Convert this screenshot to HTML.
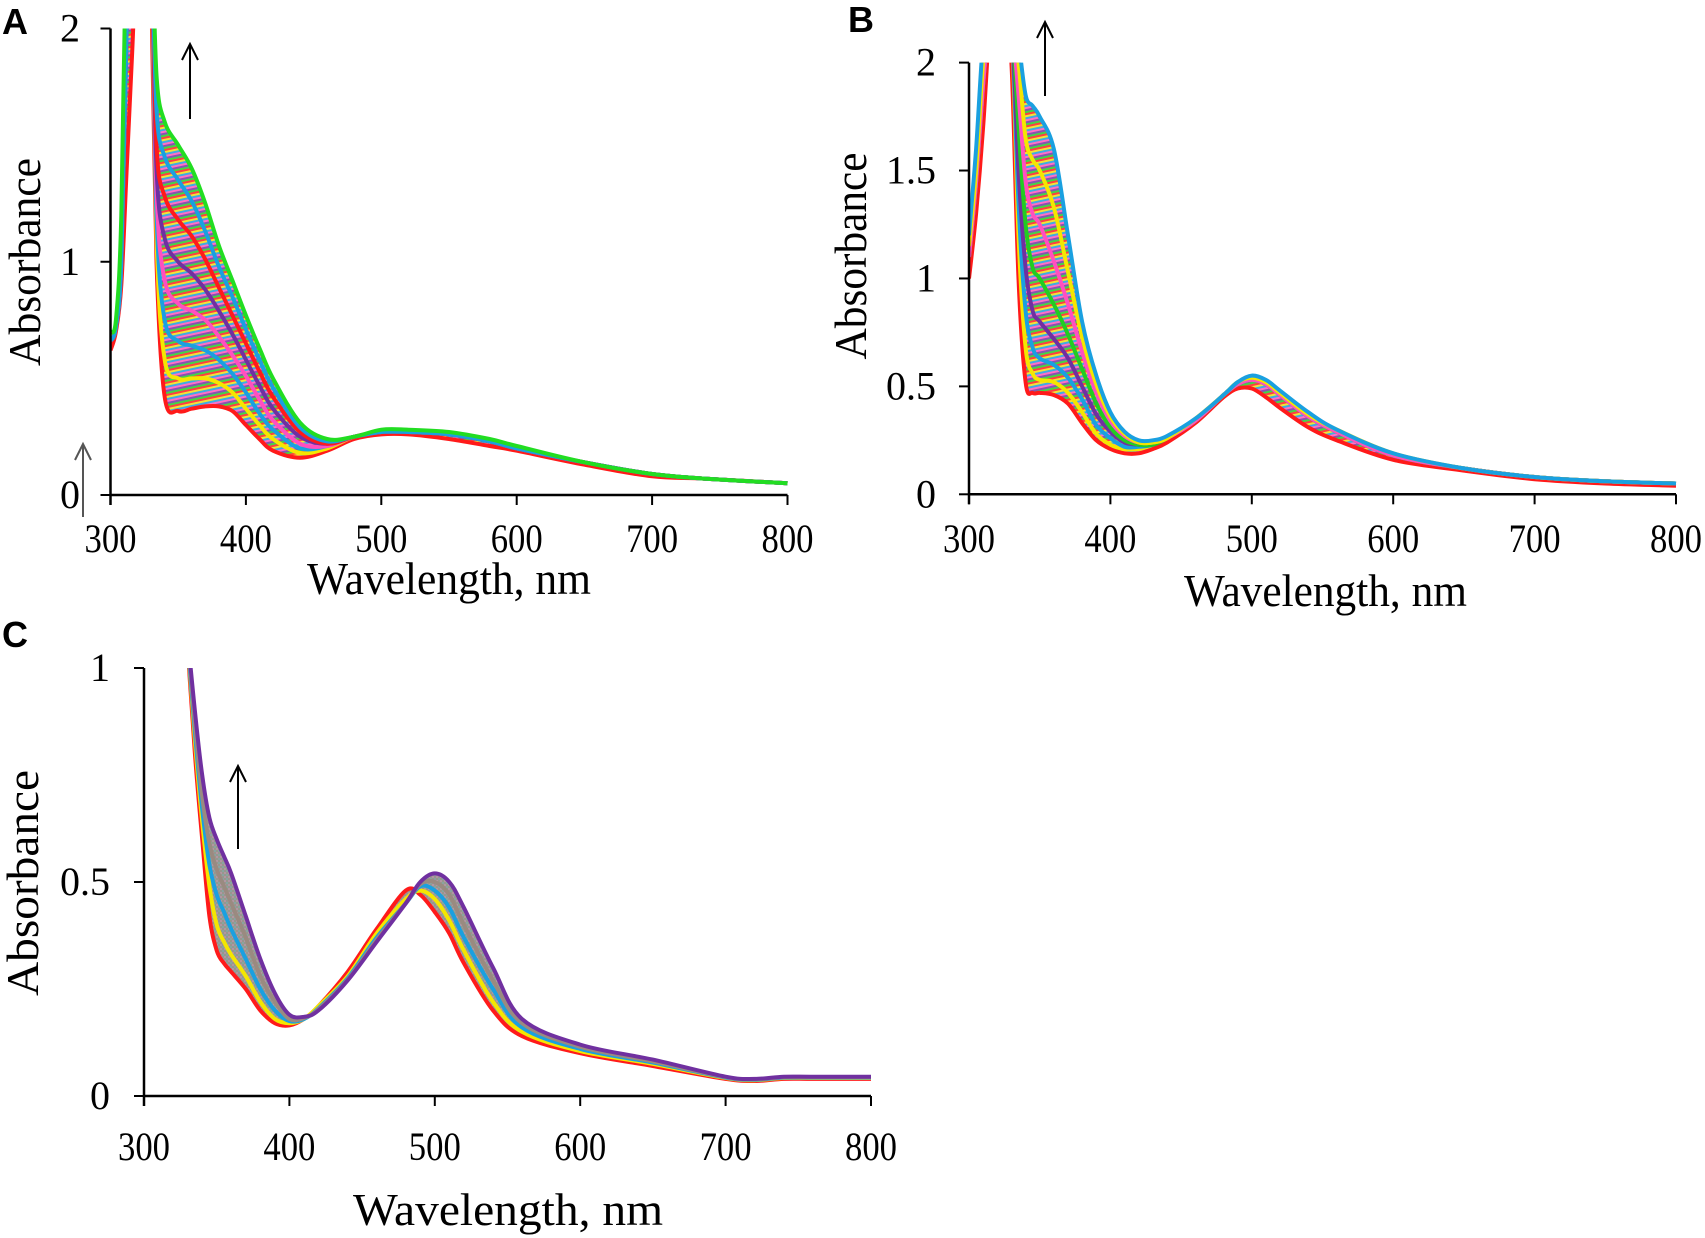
<!DOCTYPE html>
<html>
<head>
<meta charset="utf-8">
<style>
  html, body { margin: 0; padding: 0; background: #fff; }
  svg { display: block; }
  .tick { font-family: "Liberation Serif", serif; font-size: 40px; fill: #000; }
  .title { font-family: "Liberation Serif", serif; font-size: 46px; fill: #000; }
  .letter { font-family: "Liberation Sans", sans-serif; font-size: 36px; font-weight: bold; fill: #000; }
</style>
</head>
<body>
<svg id="chart" width="1705" height="1238" viewBox="0 0 1705 1238" xmlns="http://www.w3.org/2000/svg">
  <defs>
    <pattern id="stripesA" width="8" height="12" patternUnits="userSpaceOnUse" patternTransform="rotate(-12)">
      <rect x="0" y="0" width="8" height="2" fill="#ff2a2a"/>
      <rect x="0" y="2" width="8" height="2" fill="#f0e020"/>
      <rect x="0" y="4" width="8" height="2" fill="#2aa0e0"/>
      <rect x="0" y="6" width="8" height="2" fill="#ff5fc0"/>
      <rect x="0" y="8" width="8" height="2" fill="#7a40a8"/>
      <rect x="0" y="10" width="8" height="2" fill="#30d030"/>
    </pattern>
    <pattern id="stripesC" width="4" height="4" patternUnits="userSpaceOnUse">
      <rect x="0" y="0" width="4" height="4" fill="#8c8a80"/>
      <rect x="0" y="0" width="2" height="2" fill="#a88a9a"/>
      <rect x="2" y="2" width="2" height="2" fill="#7c9a96"/>
    </pattern>
  </defs>
</svg>
<script>
// ---------- Panel A data ----------
const wavelengthsA = [300,304,308,312,316,320,326,330,334,340,350,360,370,380,390,400,410,420,440,460,480,500,520,550,580,600,650,700,740,800];
const seriesA0 = [0.62,0.70,0.90,1.40,1.90,2.40,2.50,2.20,1.00,0.42,0.36,0.37,0.38,0.38,0.36,0.30,0.24,0.19,0.16,0.19,0.24,0.26,0.26,0.24,0.21,0.19,0.13,0.08,0.07,0.05];
const seriesA1 = [0.66,0.72,1.00,2.00,2.40,2.60,2.60,2.40,1.10,0.58,0.50,0.50,0.50,0.48,0.44,0.37,0.30,0.24,0.18,0.20,0.25,0.27,0.27,0.26,0.23,0.20,0.14,0.09,0.07,0.05];
const seriesA2 = [0.66,0.72,1.00,2.00,2.40,2.60,2.60,2.40,1.20,0.75,0.66,0.64,0.62,0.58,0.52,0.44,0.35,0.28,0.20,0.21,0.25,0.27,0.27,0.26,0.23,0.20,0.14,0.09,0.07,0.05];
const seriesA3 = [0.66,0.72,1.00,2.00,2.40,2.60,2.60,2.40,1.30,0.92,0.82,0.79,0.75,0.68,0.60,0.51,0.41,0.32,0.22,0.21,0.25,0.27,0.27,0.26,0.23,0.20,0.14,0.09,0.07,0.05];
const seriesA4 = [0.66,0.72,1.00,2.00,2.40,2.60,2.60,2.40,1.40,1.10,1.00,0.95,0.88,0.79,0.69,0.58,0.47,0.37,0.25,0.22,0.25,0.27,0.27,0.26,0.23,0.20,0.14,0.09,0.07,0.05];
const seriesA5 = [0.66,0.72,1.00,2.00,2.40,2.60,2.60,2.40,1.50,1.28,1.18,1.11,1.01,0.89,0.77,0.65,0.53,0.42,0.27,0.22,0.25,0.27,0.27,0.26,0.23,0.20,0.14,0.09,0.07,0.05];
const seriesA6 = [0.66,0.72,1.00,2.00,2.40,2.60,2.60,2.40,1.65,1.45,1.35,1.26,1.13,0.98,0.85,0.71,0.58,0.46,0.29,0.23,0.25,0.27,0.27,0.26,0.23,0.20,0.14,0.09,0.07,0.05];
const seriesA7 = [0.70,0.75,1.20,2.50,2.60,2.60,2.60,2.50,1.80,1.60,1.50,1.40,1.25,1.07,0.92,0.77,0.63,0.50,0.31,0.24,0.25,0.28,0.28,0.27,0.24,0.21,0.14,0.09,0.07,0.05];
const xTicksA = [300,400,500,600,700,800];
const yTicksA = [0,1,2];
const yTickLabelsA = ["0","1","2"];

// ---------- Panel B data ----------
const wavelengthsB = [300,305,310,315,320,325,330,335,340,345,350,360,370,380,390,400,410,420,430,440,460,480,490,500,510,520,540,560,600,650,700,750,800];
const seriesB0 = [1.00,1.30,1.70,2.20,2.30,2.20,2.00,1.00,0.52,0.47,0.47,0.46,0.42,0.33,0.25,0.21,0.19,0.19,0.21,0.24,0.33,0.45,0.49,0.49,0.45,0.40,0.31,0.25,0.16,0.11,0.07,0.05,0.04];
const seriesB1 = [1.10,1.45,1.90,2.25,2.35,2.30,2.20,1.20,0.68,0.56,0.53,0.52,0.47,0.38,0.28,0.23,0.21,0.21,0.23,0.26,0.34,0.46,0.51,0.53,0.51,0.46,0.36,0.29,0.18,0.12,0.08,0.06,0.05];
const seriesB2 = [1.10,1.45,1.90,2.25,2.35,2.30,2.20,1.35,0.85,0.68,0.63,0.60,0.54,0.44,0.32,0.26,0.22,0.22,0.23,0.26,0.34,0.46,0.51,0.53,0.51,0.46,0.36,0.29,0.18,0.12,0.08,0.06,0.05];
const seriesB3 = [1.10,1.45,1.90,2.25,2.35,2.30,2.20,1.50,1.05,0.85,0.80,0.72,0.63,0.50,0.37,0.29,0.24,0.23,0.23,0.26,0.34,0.46,0.51,0.53,0.51,0.46,0.36,0.29,0.18,0.12,0.08,0.06,0.05];
const seriesB4 = [1.10,1.45,1.90,2.25,2.35,2.30,2.20,1.70,1.25,1.05,1.00,0.88,0.74,0.58,0.42,0.31,0.25,0.23,0.23,0.26,0.34,0.46,0.51,0.53,0.51,0.46,0.36,0.29,0.18,0.12,0.08,0.06,0.05];
const seriesB5 = [1.10,1.45,1.90,2.25,2.35,2.30,2.20,1.85,1.45,1.30,1.25,1.08,0.88,0.66,0.47,0.34,0.27,0.24,0.24,0.26,0.34,0.46,0.51,0.53,0.51,0.46,0.36,0.29,0.18,0.12,0.08,0.06,0.05];
const seriesB6 = [1.15,1.50,2.00,2.30,2.40,2.35,2.25,2.00,1.65,1.55,1.50,1.33,1.03,0.73,0.51,0.36,0.28,0.24,0.24,0.26,0.35,0.46,0.52,0.54,0.52,0.47,0.37,0.30,0.19,0.12,0.08,0.06,0.05];
const seriesB7 = [1.20,1.60,2.10,2.30,2.40,2.40,2.30,2.10,1.85,1.80,1.75,1.60,1.20,0.80,0.55,0.38,0.29,0.25,0.25,0.27,0.35,0.46,0.52,0.55,0.53,0.48,0.38,0.30,0.19,0.12,0.08,0.06,0.05];
const xTicksB = [300,400,500,600,700,800];
const yTicksB = [0,0.5,1,1.5,2];
const yTickLabelsB = ["0","0.5","1","1.5","2"];

// ---------- Panel C data ----------
const wavelengthsC = [325,330,335,340,345,350,355,360,370,380,390,400,410,420,440,460,480,490,500,510,520,540,560,600,650,700,720,740,760,800];
const seriesC0 = [1.30,1.05,0.80,0.60,0.42,0.34,0.31,0.29,0.25,0.20,0.17,0.165,0.18,0.21,0.29,0.39,0.48,0.47,0.43,0.38,0.31,0.20,0.14,0.10,0.07,0.04,0.035,0.04,0.04,0.04];
const seriesC1 = [1.30,1.06,0.83,0.64,0.49,0.40,0.36,0.33,0.28,0.22,0.18,0.17,0.18,0.21,0.28,0.38,0.46,0.48,0.46,0.41,0.34,0.22,0.15,0.105,0.075,0.042,0.037,0.042,0.042,0.042];
const seriesC2 = [1.30,1.06,0.85,0.67,0.54,0.47,0.43,0.39,0.32,0.25,0.20,0.175,0.18,0.205,0.275,0.37,0.45,0.49,0.48,0.44,0.37,0.25,0.16,0.11,0.078,0.043,0.038,0.043,0.043,0.043];
const seriesC3 = [1.30,1.07,0.87,0.70,0.59,0.53,0.49,0.45,0.37,0.28,0.22,0.18,0.182,0.203,0.272,0.365,0.45,0.495,0.50,0.47,0.40,0.27,0.17,0.115,0.081,0.044,0.039,0.044,0.044,0.044];
const seriesC4 = [1.30,1.08,0.90,0.75,0.65,0.60,0.56,0.52,0.42,0.32,0.24,0.19,0.185,0.20,0.27,0.36,0.45,0.50,0.52,0.50,0.44,0.30,0.18,0.12,0.085,0.045,0.04,0.045,0.045,0.045];
const xTicksC = [300,400,500,600,700,800];
const yTicksC = [0,0.5,1];
const yTickLabelsC = ["0","0.5","1"];

const svg = document.getElementById('chart');
const NS = 'http://www.w3.org/2000/svg';
function mk(tag, attrs, parent) {
  const el = document.createElementNS(NS, tag);
  for (const k in attrs) el.setAttribute(k, attrs[k]);
  (parent || svg).appendChild(el);
  return el;
}
function smoothPath(pts) {
  let d = 'M' + pts[0][0].toFixed(1) + ',' + pts[0][1].toFixed(1);
  for (let i = 0; i < pts.length - 1; i++) {
    const p0 = pts[Math.max(0, i - 1)], p1 = pts[i], p2 = pts[i + 1], p3 = pts[Math.min(pts.length - 1, i + 2)];
    const c1x = p1[0] + (p2[0] - p0[0]) / 6, c1y = p1[1] + (p2[1] - p0[1]) / 6;
    const c2x = p2[0] - (p3[0] - p1[0]) / 6, c2y = p2[1] - (p3[1] - p1[1]) / 6;
    d += ' C' + c1x.toFixed(1) + ',' + c1y.toFixed(1) + ' ' + c2x.toFixed(1) + ',' + c2y.toFixed(1) + ' ' + p2[0].toFixed(1) + ',' + p2[1].toFixed(1);
  }
  return d;
}

function drawPanel(cfg) {
  const g = mk('g', {});
  
  
  const xs = v => cfg.x0 + (v - 300) / 500 * (cfg.x1 - cfg.x0);
  const ys = v => cfg.yZero - v / cfg.yMax * (cfg.yZero - cfg.yTop);

  const clip = mk('clipPath', { id: 'clip' + cfg.id }, g);
  mk('rect', { x: cfg.x0, y: cfg.yTop, width: cfg.x1 - cfg.x0 + 8, height: cfg.yZero - cfg.yTop }, clip);
  const plot = mk('g', { 'clip-path': 'url(#clip' + cfg.id + ')' }, g);
  
  

  const first = cfg.series[0], last = cfg.series[cfg.series.length - 1];
  const lo = cfg.wl.map((w, i) => [xs(w), ys(first[i])]);
  const hi = cfg.wl.map((w, i) => [xs(w), ys(last[i])]).reverse();
  const band = mk('path', { d: smoothPath(lo) + ' L' + smoothPath(hi).slice(1) + ' Z', fill: cfg.bandFill, stroke: 'none', opacity: 0.9 }, plot);
  
  

  cfg.series.forEach((s, k) => {
    const pts = cfg.wl.map((w, i) => [xs(w), ys(s[i])]);
    const p = mk('path', { d: smoothPath(pts), fill: 'none', stroke: cfg.colors[k], 'stroke-width': cfg.sw, 'stroke-linejoin': 'round' }, plot);
    
    
  });

  const ax = mk('line', { x1: cfg.x0, y1: cfg.yZero, x2: cfg.x1, y2: cfg.yZero, stroke: '#000', 'stroke-width': 2.5 }, g);
  
  
  const ay = mk('line', { x1: cfg.x0, y1: cfg.yTop, x2: cfg.x0, y2: cfg.yZero + 10, stroke: '#000', 'stroke-width': 2.5 }, g);
  
  

  cfg.xTicks.forEach(v => {
    const t = mk('line', { x1: xs(v), y1: cfg.yZero, x2: xs(v), y2: cfg.yZero + 10, stroke: '#000', 'stroke-width': 2 }, g);
    
    
    const l = mk('text', { x: xs(v), y: cfg.xLabelY, 'text-anchor': 'middle', class: 'tick', textLength: 52, lengthAdjust: 'spacingAndGlyphs' }, g);
    l.textContent = String(v);
    
    
  });
  cfg.yTicks.forEach((v, i) => {
    const t = mk('line', { x1: cfg.x0 - 10, y1: ys(v), x2: cfg.x0, y2: ys(v), stroke: '#000', 'stroke-width': 2 }, g);
    
    
    const l = mk('text', { x: cfg.yLabelX, y: ys(v) + 13, 'text-anchor': 'end', class: 'tick' }, g);
    l.textContent = cfg.yLabels[i];
    
    
  });

  const xt = mk('text', { x: cfg.xTitle[0], y: cfg.xTitle[1], class: 'title', textLength: cfg.xTitle[2], lengthAdjust: 'spacingAndGlyphs' }, g);
  xt.textContent = 'Wavelength, nm';
  
  
  const yt = mk('text', { x: 0, y: 0, class: 'title', 'text-anchor': 'middle', textLength: cfg.yTitle[2], lengthAdjust: 'spacingAndGlyphs', transform: 'translate(' + cfg.yTitle[0] + ',' + cfg.yTitle[1] + ') rotate(-90)' }, g);
  yt.textContent = 'Absorbance';
  
  

  const lt = mk('text', { x: cfg.letter[0], y: cfg.letter[1], class: 'letter' }, g);
  lt.textContent = cfg.id;
  
  

  cfg.arrows.forEach(a => {
    const ar = mk('path', { d: 'M' + a[0] + ',' + a[2] + ' L' + a[0] + ',' + a[1] + ' M' + (a[0] - 8) + ',' + (a[1] + 16) + ' L' + a[0] + ',' + a[1] + ' L' + (a[0] + 8) + ',' + (a[1] + 16), fill: 'none', stroke: a[3], 'stroke-width': 2 }, g);
    
    
  });
}

drawPanel({
  id: 'A', x0: 110.5, x1: 787.5, yZero: 495, yTop: 28.5, yMax: 2,
  wl: wavelengthsA,
  series: [seriesA0, seriesA1, seriesA2, seriesA3, seriesA4, seriesA5, seriesA6, seriesA7],
  colors: ['#ff1a1a', '#f5e600', '#1aa0e0', '#ff4fc0', '#7030a0', '#ff1a1a', '#1aa0e0', '#22dd22'],
  sw: 4, bandFill: 'url(#stripesA)',
  xTicks: xTicksA, yTicks: yTicksA, yLabels: yTickLabelsA,
  xLabelY: 552, yLabelX: 80,
  xTitle: [307, 594, 284], yTitle: [40, 262, 208],
  letter: [2, 34],
  arrows: [[190, 44, 119, '#000'], [83, 444, 517, '#555']]
});
drawPanel({
  id: 'B', x0: 969, x1: 1676, yZero: 494.3, yTop: 62.6, yMax: 2,
  wl: wavelengthsB,
  series: [seriesB0, seriesB1, seriesB2, seriesB3, seriesB4, seriesB5, seriesB6, seriesB7],
  colors: ['#ff1a1a', '#f5e600', '#1aa0e0', '#7030a0', '#22cc22', '#ff4fc0', '#f5e600', '#1aa0e0'],
  sw: 4, bandFill: 'url(#stripesA)',
  xTicks: xTicksB, yTicks: yTicksB, yLabels: yTickLabelsB,
  xLabelY: 552, yLabelX: 936,
  xTitle: [1184, 606, 283], yTitle: [866, 256, 207],
  letter: [848, 32],
  arrows: [[1045, 22, 96, '#000']]
});
drawPanel({
  id: 'C', x0: 144, x1: 871, yZero: 1096, yTop: 668, yMax: 1,
  wl: wavelengthsC,
  series: [seriesC0, seriesC1, seriesC2, seriesC3, seriesC4],
  colors: ['#ff1a1a', '#f5e600', '#1aa0e0', '#9a8a80', '#7030a0'],
  sw: 4, bandFill: 'url(#stripesC)',
  xTicks: xTicksC, yTicks: yTicksC, yLabels: yTickLabelsC,
  xLabelY: 1160, yLabelX: 110,
  xTitle: [353, 1225, 310], yTitle: [38, 883, 226],
  letter: [2, 647],
  arrows: [[238, 766, 849, '#000']]
});
</script>
</body>
</html>
